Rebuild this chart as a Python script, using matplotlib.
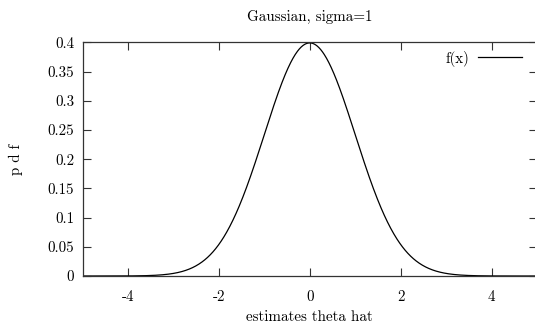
import numpy as np
import matplotlib
matplotlib.use("Agg")
import matplotlib.pyplot as plt

# Distribution parameters and axis settings
mu = 0.0
sigma = 1.0
x_range = [-5, 5]
y_range = [0, 0.4]
x_ticks = [-4, -2, 0, 2, 4]
x_tick_labels = ["-4", "-2", "0", "2", "4"]
y_ticks = [0, 0.05, 0.1, 0.15, 0.2, 0.25, 0.3, 0.35, 0.4]
y_tick_labels = ["0", "0.05", "0.1", "0.15", "0.2", "0.25", "0.3", "0.35", "0.4"]

x = np.linspace(x_range[0], x_range[1], 1001)
pdf = np.exp(-0.5 * ((x - mu) / sigma) ** 2) / (sigma * np.sqrt(2 * np.pi))

plt.rcParams["font.family"] = ["cmr10", "DejaVu Serif"]
plt.rcParams["axes.unicode_minus"] = False

FS = 10.8
W, H = 535, 326
fig = plt.figure(figsize=(W / 100, H / 100), dpi=100)
left, right, top, bottom = 82.5, 537.0, 42.3, 276.0
ax = fig.add_axes([left / W, (H - bottom) / H, (right - left) / W, (bottom - top) / H])

ax.plot(x, pdf, color="black", lw=0.9, label="f(x)")
ax.set_xlim(x_range)
ax.set_ylim(y_range)

ax.set_xticks(x_ticks)
ax.set_xticklabels(x_tick_labels)
ax.set_yticks(y_ticks)
ax.set_yticklabels(y_tick_labels)
ax.tick_params(direction="in", length=6, width=0.8, color="#333333",
               top=True, right=True, labelsize=FS)
ax.tick_params(axis="x", pad=10)
ax.tick_params(axis="y", pad=6)

for s in ax.spines.values():
    s.set_linewidth(0.9)
    s.set_color("#333333")

ax.set_title("Gaussian, sigma=1", fontsize=FS, pad=15)
ax.set_xlabel("estimates theta hat", fontsize=FS, labelpad=5)
ax.set_ylabel("p d f", fontsize=FS, labelpad=18)

leg = ax.legend(loc="upper right", frameon=False, fontsize=FS, markerfirst=False,
                handlelength=2.9, handletextpad=0.6,
                bbox_to_anchor=((530 - left) / (right - left), 1.0),
                borderaxespad=0.15)

fig.savefig("out.png", dpi=100)
